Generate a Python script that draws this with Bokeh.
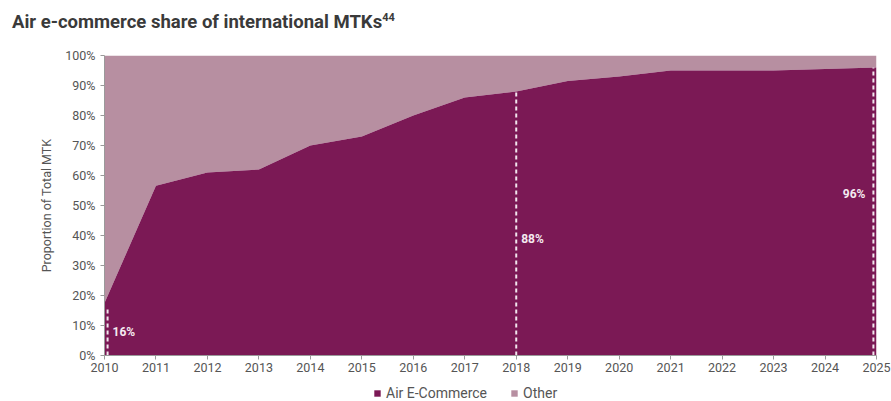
from bokeh.plotting import figure
from bokeh.embed import file_html
from bokeh.resources import INLINE
from bokeh.layouts import column
from bokeh.models import (Range1d, FixedTicker, CustomJSTickFormatter, Legend, LegendItem, Div, ColumnDataSource)
from bokeh.core.properties import value

years = [2010, 2011, 2012, 2013, 2014, 2015, 2016, 2017, 2018, 2019, 2020, 2021, 2022, 2023, 2024, 2025]
ecommerce = [17.5, 56.6, 61, 62, 70, 73, 80, 86, 88, 91.5, 93, 95, 95, 95, 95.5, 96]
total = [100] * len(years)

ann_years = [2010, 2018, 2025]
ann_values = [16, 88, 96]
ann_labels = ["16%", "88%", "96%"]
series_names = ["Air E-Commerce", "Other"]
title_text = "Air e-commerce share of international MTKs<sup style='font-size:11px'>44</sup>"

DARK = "#7b1955"
LIGHT = "#b78fa1"
FONT = "Roboto"
W = 891

# title
tf = Div(text=title_text, width=W - 12, height=31, margin=(9, 0, 0, 12),
         styles={"font-family": FONT, "font-size": "18.5px", "font-weight": "bold",
                 "color": "#3a3a3a", "white-space": "nowrap"})

# main chart
p = figure(width=W, height=343, output_backend="svg", toolbar_location=None,
           x_range=Range1d(2010, 2025), y_range=Range1d(0, 100),
           min_border_left=104, min_border_right=15, min_border_top=15, min_border_bottom=28)
p.outline_line_color = None
p.background_fill_color = "white"
p.border_fill_color = "white"

src = ColumnDataSource(dict(x=years, e=ecommerce, t=total, z=[0] * len(years)))
p.varea(x="x", y1="e", y2="t", source=src, fill_color=LIGHT)
p.varea(x="x", y1="z", y2="e", source=src, fill_color=DARK)

# dashed markers
shift = [0.06, 0.0, -0.06]
ax = [y + s for y, s in zip(ann_years, shift)]
p.segment(x0=ax, x1=ax, y0=[0] * 3, y1=ann_values, line_color="#f2e6ee", line_width=2, line_dash="4 3")
label_y = [8, 39, 54]
p.text(x=ax[:2], y=label_y[:2], text=ann_labels[:2], x_offset=5, text_color="#f4eaf0",
       text_font=value(FONT), text_font_style="bold", text_font_size="12px", text_baseline="middle",
       text_align="left")
p.text(x=ax[2:], y=label_y[2:], text=ann_labels[2:], x_offset=-8, text_color="#f4eaf0",
       text_font=value(FONT), text_font_style="bold", text_font_size="12px", text_baseline="middle",
       text_align="right")

p.grid.visible = False
for a in (p.xaxis[0], p.yaxis[0]):
    a.axis_line_color = "#9a9a9a"
    a.major_tick_line_color = "#9a9a9a"
    a.minor_tick_line_color = None
    a.major_tick_out = 4
    a.major_tick_in = 0
    a.major_label_text_color = "#555555"
    a.major_label_text_font = FONT
    a.major_label_text_font_size = "12.5px"

p.xaxis.ticker = FixedTicker(ticks=years)
p.xaxis.major_label_standoff = 3
p.yaxis.ticker = FixedTicker(ticks=list(range(0, 101, 10)))
p.yaxis.formatter = CustomJSTickFormatter(code="return tick + '%';")
p.yaxis.axis_label = "Proportion of Total MTK"
p.yaxis.axis_label_text_font = FONT
p.yaxis.axis_label_text_font_style = "normal"
p.yaxis.axis_label_text_font_size = "12.5px"
p.yaxis.axis_label_text_color = "#555555"
p.yaxis.axis_label_standoff = 8

# legend strip (own small figure so it is not clipped)
lg = figure(width=W, height=18, output_backend="svg", toolbar_location=None,
            x_range=Range1d(0, 1), y_range=Range1d(200, 300),
            x_axis_type=None, y_axis_type=None, min_border=0)
lg.outline_line_color = None
lg.grid.visible = False
l_ecom = lg.varea(x="x", y1="z", y2="e", source=src, fill_color=DARK)
l_other = lg.varea(x="x", y1="e", y2="t", source=src, fill_color=LIGHT)
legend = Legend(items=[LegendItem(label=series_names[0], renderers=[l_ecom]),
                       LegendItem(label=series_names[1], renderers=[l_other])],
                orientation="horizontal", location=(269, 0), border_line_color=None,
                background_fill_alpha=0,
                label_text_font=FONT, label_text_font_size="14px", label_text_color="#555555",
                glyph_width=8, glyph_height=8, spacing=23, padding=0, margin=0,
                label_standoff=5, label_height=12)
lg.add_layout(legend, "center")

layout = column(tf, p, lg, spacing=0)
open("out.html", "w").write(file_html(layout, INLINE))
